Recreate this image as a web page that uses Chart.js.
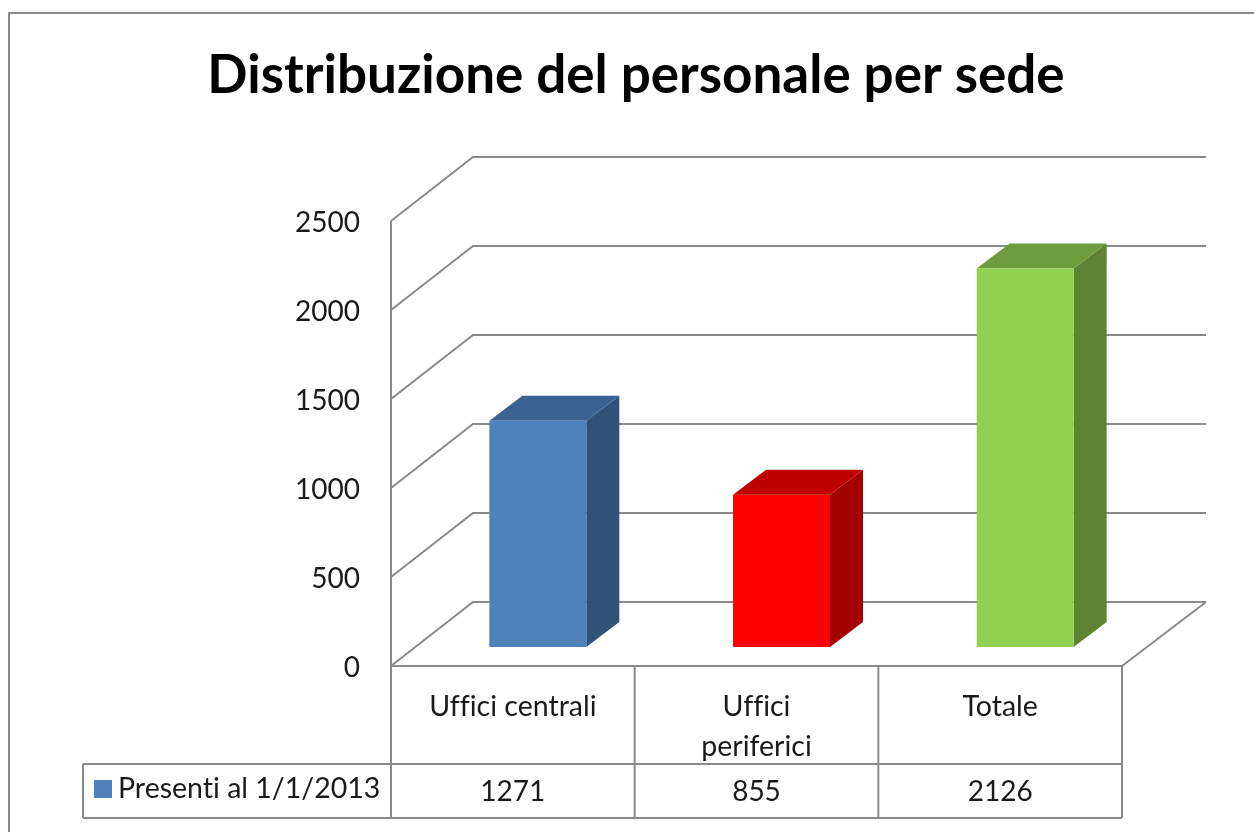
<!DOCTYPE html>
<html>
<head>
<meta charset="utf-8">
<style>html,body{margin:0;padding:0;background:#fff;overflow:hidden}canvas{display:block}</style>
<script src="https://cdn.jsdelivr.net/npm/chart.js@4"></script>
</head>
<body>
<canvas id="c" width="1254" height="832"></canvas>
<script>
const titleText = 'Distribuzione del personale per sede';
const categories = [['Uffici centrali'], ['Uffici', 'periferici'], ['Totale']];
const seriesName = 'Presenti al 1/1/2013';
const values = [1271, 855, 2126];
const frontColors = ['#4F81BD', '#FF0000', '#92D050'];
const topColors = ['#3B6391', '#BF0000', '#6D9C3D'];
const sideColors = ['#325379', '#A30000', '#5E8433'];
const legendColor = '#4F81BD';

const FONT = 'Lato, Carlito, "Open Sans", sans-serif';
const TEXT = '#1a1a1a';
const LINE = '#8a8a8a';
const WALL = { dx: 82, dxRight: 84, dy: -64 };
const BAR = { dx: 33, dy: -25, shiftX: 25, shiftY: -19 };
const TABLE = { rowY: 764, bottomY: 818, legendLeft: 83 };

const poly = (ctx, pts, fill) => {
  ctx.beginPath();
  pts.forEach((p, i) => i ? ctx.lineTo(p[0], p[1]) : ctx.moveTo(p[0], p[1]));
  ctx.closePath();
  ctx.fillStyle = fill;
  ctx.fill();
};

const scene3d = {
  id: 'scene3d',
  beforeDraw(chart) {
    const ctx = chart.ctx;
    ctx.textRendering = 'optimizeSpeed';
    ctx.save();
    ctx.strokeStyle = LINE;
    ctx.lineWidth = 2;
    ctx.beginPath();
    ctx.moveTo(9, 832); ctx.lineTo(9, 13); ctx.lineTo(1254, 13);
    ctx.stroke();
    ctx.restore();
  },
  beforeDatasetsDraw(chart) {
    const { ctx, chartArea: a, scales: { x, y } } = chart;
    ctx.save();
    ctx.strokeStyle = LINE;
    ctx.lineWidth = 2;
    ctx.lineJoin = 'miter';
    // left wall edge and gridlines on the back wall
    ctx.beginPath();
    ctx.moveTo(a.left, y.getPixelForValue(y.max));
    ctx.lineTo(a.left, y.getPixelForValue(y.min));
    y.ticks.forEach(t => {
      const py = y.getPixelForValue(t.value);
      ctx.moveTo(a.left, py);
      ctx.lineTo(a.left + WALL.dx, py + WALL.dy);
      ctx.lineTo(a.right + WALL.dxRight, py + WALL.dy);
    });
    // floor
    const y0 = y.getPixelForValue(0);
    ctx.moveTo(a.right + WALL.dxRight, y0 + WALL.dy);
    ctx.lineTo(a.right, y0);
    ctx.lineTo(a.left, y0);
    ctx.stroke();

    // data table grid
    ctx.beginPath();
    const edges = [a.left, ...categories.map((_, i) => x.getPixelForValue(i) + (a.right - a.left) / categories.length / 2)];
    edges.forEach(ex => { ctx.moveTo(ex, y0); ctx.lineTo(ex, TABLE.bottomY); });
    ctx.moveTo(TABLE.legendLeft, TABLE.rowY); ctx.lineTo(a.right, TABLE.rowY);
    ctx.moveTo(TABLE.legendLeft, TABLE.bottomY); ctx.lineTo(a.right, TABLE.bottomY);
    ctx.moveTo(TABLE.legendLeft, TABLE.rowY); ctx.lineTo(TABLE.legendLeft, TABLE.bottomY);
    ctx.stroke();

    // data table contents
    ctx.fillStyle = legendColor;
    ctx.fillRect(94, 780, 18, 18);
    ctx.fillStyle = TEXT;
    ctx.textBaseline = 'middle';
    ctx.textAlign = 'left';
    ctx.font = '28.5px ' + FONT;
    ctx.fillText(seriesName, 118, 789);
    ctx.textAlign = 'center';
    ctx.font = '28px ' + FONT;
    values.forEach((v, i) => ctx.fillText(String(v), x.getPixelForValue(i), 792));

    // side and top faces of the bars
    chart.getDatasetMeta(0).data.forEach((b, i) => {
      const l = b.x - b.width / 2 + BAR.shiftX;
      const r = b.x + b.width / 2 + BAR.shiftX;
      const t = b.y + BAR.shiftY;
      const bot = b.base + BAR.shiftY;
      poly(ctx, [[r, t], [r + BAR.dx, t + BAR.dy], [r + BAR.dx, bot + BAR.dy], [r, bot]], sideColors[i]);
      poly(ctx, [[l, t], [l + BAR.dx, t + BAR.dy], [r + BAR.dx, t + BAR.dy], [r, t]], topColors[i]);
    });
    ctx.restore();
    // front faces are the library's own bars, pushed back onto the floor
    ctx.save();
    ctx.translate(BAR.shiftX, BAR.shiftY);
  },
  afterDatasetsDraw(chart) {
    chart.ctx.restore();
  }
};

const noGrid = { display: false, drawTicks: false };

new Chart(document.getElementById('c'), {
  type: 'bar',
  data: {
    labels: categories,
    datasets: [{
      label: seriesName,
      data: values,
      backgroundColor: frontColors,
      borderWidth: 0,
      barPercentage: 0.398,
      categoryPercentage: 1
    }]
  },
  plugins: [scene3d],
  options: {
    responsive: false,
    animation: false,
    layout: { padding: { left: 150, right: 132, top: 0, bottom: 0 } },
    plugins: {
      legend: { display: false },
      tooltip: { enabled: false },
      title: {
        display: true,
        text: titleText,
        color: '#000',
        font: { family: FONT, size: 53, weight: 'bold', lineHeight: 1.2 },
        padding: { top: 44, bottom: 113.4 }
      }
    },
    scales: {
      x: {
        grid: noGrid,
        border: { display: false },
        ticks: {
          color: TEXT,
          font: { family: FONT, size: 28.5, lineHeight: 1.41 },
          padding: 21,
          maxRotation: 0,
          autoSkip: false
        },
        afterFit(s) { s.height = 166; }
      },
      y: {
        min: 0,
        max: 2500,
        grid: noGrid,
        border: { display: false },
        ticks: {
          stepSize: 500,
          color: TEXT,
          font: { family: FONT, size: 28 },
          padding: 31,
          labelOffset: 2,
          callback: v => String(v)
        },
        afterFit(s) { s.width = 241; }
      }
    }
  }
});
</script>
</body>
</html>
